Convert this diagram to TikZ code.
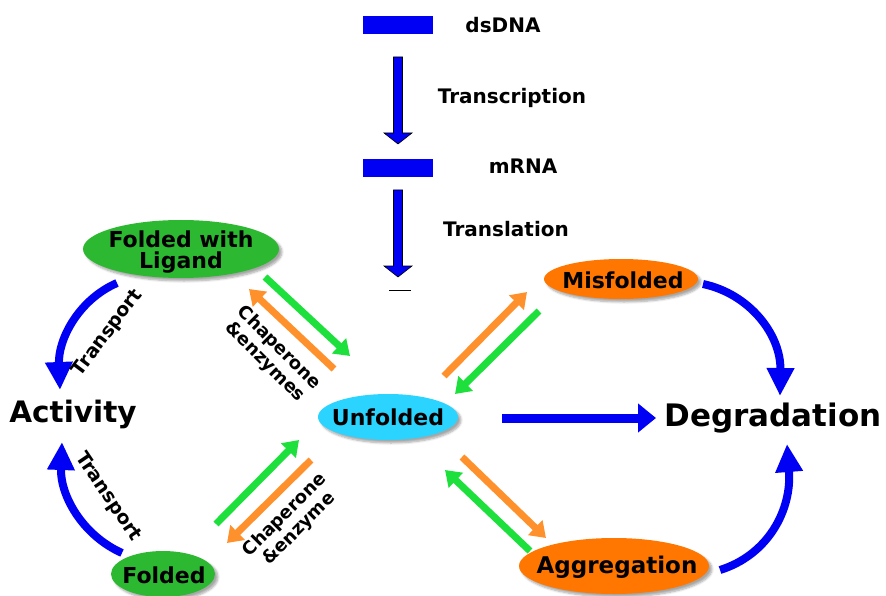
\documentclass[tikz,border=0pt]{standalone}
\usepackage{fontspec}
\setmainfont{DejaVu Sans}
\usetikzlibrary{arrows.meta,shadows.blur}
\definecolor{dblue}{RGB}{0,0,245}
\definecolor{ggreen}{RGB}{45,184,50}
\definecolor{lgreen}{RGB}{30,224,60}
\definecolor{lorange}{RGB}{255,145,45}
\definecolor{dorange}{RGB}{255,119,0}
\definecolor{cyanish}{RGB}{42,212,255}
\begin{document}
\begin{tikzpicture}[x=1pt,y=-1pt,
  lbl/.style={font=\bfseries\fontsize{20}{22}\selectfont, inner sep=0pt},
  stlbl/.style={font=\bfseries\fontsize{22}{22}\selectfont, inner sep=0pt, align=center},
  big/.style={font=\bfseries\fontsize{31}{31}\selectfont, inner sep=0pt},
  rlbl/.style={font=\bfseries\fontsize{18}{20}\selectfont, inner sep=0pt, align=center},
  oval/.style={blur shadow={shadow blur steps=6, shadow xshift=3pt, shadow yshift=-3pt, shadow opacity=35}},
  chap/.style={line width=7pt, -{Triangle[width=20pt,length=15pt]}},
  blu/.style={draw=dblue, line width=8pt, -{Triangle[width=26pt,length=28pt]}},
  barstyle/.style={fill=dblue, minimum width=70pt, minimum height=18pt, inner sep=0pt},
  blockarrow/.style={fill=dblue, draw=black, line width=0.6pt, line join=miter},
]
\useasboundingbox (0,0) rectangle (886,596);

% top: DNA -> mRNA -> protein
\node[barstyle] (dna) at (398,25) {};
\node[lbl] (dnal) at (503,25) {dsDNA};
\node[lbl] (trc) at (512,98) {Transcription};
\node[barstyle] (mrna) at (398,168) {};
\node[lbl] (mrnal) at (523,166) {mRNA};
\node[lbl] (trl) at (506,229) {Translation};

\coordinate (a1s) at (398,57);
\coordinate (a1e) at (398,144);
\coordinate (a2s) at (398,190);
\coordinate (a2e) at (398,277);
\draw[blockarrow] (a1s) ++(-4.5,0) -- ++(9,0) -- ++(0,76) -- ++(9.5,0) -- (a1e) -- ++(-14,-11) -- ++(9.5,0) -- cycle;
\draw[blockarrow] (a2s) ++(-4.5,0) -- ++(9,0) -- ++(0,76) -- ++(9.5,0) -- (a2e) -- ++(-14,-11) -- ++(9.5,0) -- cycle;
\coordinate (pl) at (389,290);
\coordinate (pr) at (411,290);
\draw[line width=1pt] (pl) -- (pr);

% states
\fill[ggreen, oval] (181,249) ellipse [x radius=98, y radius=29];
\node[stlbl] (fwl) at (181,252) {Folded with\\[-1pt]Ligand};
\fill[ggreen, oval] (163,574) ellipse [x radius=52, y radius=23];
\node[stlbl] (fold) at (164,575) {Folded};
\fill[cyanish, oval] (388,417) ellipse [x radius=70, y radius=23];
\node[stlbl] (unf) at (388,417) {Unfolded};
\fill[dorange, oval] (621,279) ellipse [x radius=77, y radius=20];
\node[stlbl] (mis) at (623,280) {Misfolded};
\fill[dorange, oval] (614,566) ellipse [x radius=95, y radius=28];
\node[stlbl, font=\bfseries\fontsize{23}{23}\selectfont] (agg) at (617,567) {Aggregation};
\node[big, font=\bfseries\fontsize{29.5}{30}\selectfont] (act) at (73,414) {Activity};
\node[big] (deg) at (773,418) {Degradation};

% chaperone arrows, upper left
\coordinate (g1s) at (265,277);
\coordinate (g1e) at (350,356);
\coordinate (o1s) at (334,369);
\coordinate (o1e) at (249,289);
\draw[chap, lgreen] (g1s) -- (g1e);
\draw[chap, lorange] (o1s) -- (o1e);
\node[rlbl, rotate=-45] (chap1) at (272,355) {Chaperone\\\&enzymes};

% lower left
\coordinate (g2s) at (216,524);
\coordinate (g2e) at (299,440);
\coordinate (o2s) at (311,460);
\coordinate (o2e) at (227,543);
\draw[chap, lgreen] (g2s) -- (g2e);
\draw[chap, lorange] (o2s) -- (o2e);
\node[rlbl, rotate=45] (chap2) at (292,522) {Chaperone\\\&enzyme};

% upper right
\coordinate (o3s) at (444,376);
\coordinate (o3e) at (527,292);
\coordinate (g3s) at (539,311);
\coordinate (g3e) at (455,394);
\draw[chap, lorange] (o3s) -- (o3e);
\draw[chap, lgreen] (g3s) -- (g3e);

% lower right
\coordinate (o4s) at (462,457);
\coordinate (o4e) at (546,538);
\coordinate (g4s) at (530,551);
\coordinate (g4e) at (445,470);
\draw[chap, lorange] (o4s) -- (o4e);
\draw[chap, lgreen] (g4s) -- (g4e);

% transport
\coordinate (t1s) at (117,283);
\coordinate (t1e) at (60,390);
\draw[blu] (t1s) .. controls (78,300) and (58,340) .. (t1e);
\node[rlbl, font=\bfseries\fontsize{19}{19}\selectfont, rotate=53] (tr1) at (108,333) {Transport};
\coordinate (t2s) at (122,553);
\coordinate (t2e) at (62,442);
\draw[blu] (t2s) .. controls (82,535) and (60,495) .. (t2e);
\node[rlbl, font=\bfseries\fontsize{19}{19}\selectfont, rotate=-56] (tr2) at (108,497) {Transport};

% degradation
\coordinate (d1s) at (703,284);
\coordinate (d1e) at (780,396);
\draw[blu] (d1s) .. controls (750,294) and (781,335) .. (d1e);
\coordinate (d2s) at (720,570);
\coordinate (d2e) at (787,444);
\draw[blu] (d2s) .. controls (768,555) and (792,510) .. (d2e);
\coordinate (hs) at (502,418);
\coordinate (he) at (656,418);
\draw[draw=dblue, line width=9pt, -{Triangle[width=28pt,length=18pt]}] (hs) -- (he);
\end{tikzpicture}
\end{document}
